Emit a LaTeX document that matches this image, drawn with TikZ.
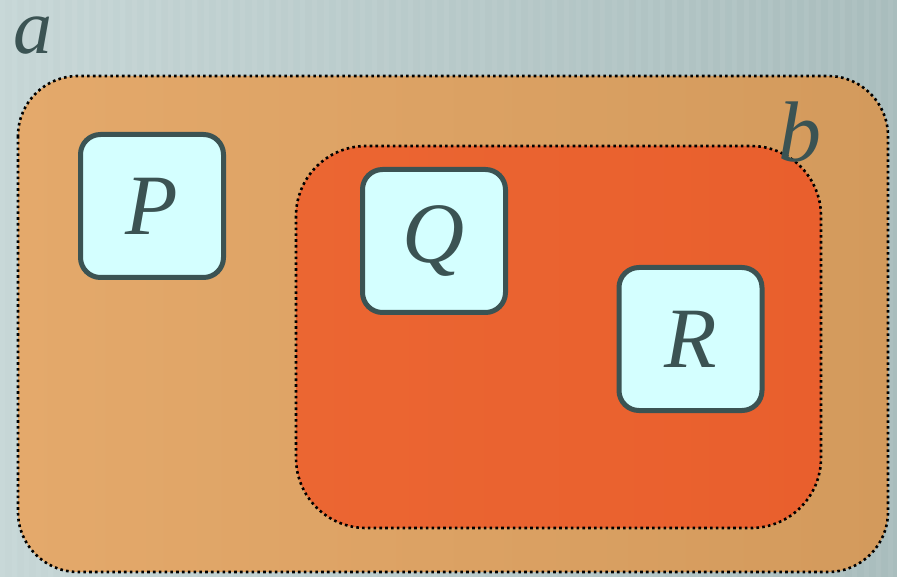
\documentclass[tikz,border=0pt]{standalone}
\usepackage{fontspec}
\newfontfamily\labelfont{Liberation Serif}
\definecolor{bgL}{HTML}{C6D6D6}
\definecolor{bgR}{HTML}{A9BDBD}
\definecolor{orL}{HTML}{E4A96B}
\definecolor{orR}{HTML}{D39A5C}
\definecolor{inL}{HTML}{EB6632}
\definecolor{inR}{HTML}{E95F2D}
\definecolor{boxfill}{HTML}{D4FFFF}
\definecolor{ink}{HTML}{3B5353}
\tikzset{
  setbox/.style={line width=2.6pt, draw=black, dash pattern=on 2.6pt off 3.2pt, rounded corners=#1},
  elembox/.style={draw=ink, line width=5pt, fill=boxfill, rounded corners=20pt,
    minimum width=143pt, minimum height=143pt, inner sep=0pt, text=ink,
    font=\labelfont\itshape\fontsize{86}{86}\selectfont},
  setlabel/.style={text=ink, inner sep=0pt, font=\labelfont\itshape\fontsize{#1}{#1}\selectfont}
}
\begin{document}
\begin{tikzpicture}[x=1pt,y=-1pt]
\useasboundingbox (0,0) rectangle (897,577);
\shade[left color=bgL, right color=bgR] (0,0) rectangle (897,577);
\foreach \i in {0,12,...,890} {
  \fill[white, opacity=0.05] (\i,0) rectangle ++(5,577);
}
\shade[left color=orL, right color=orR, rounded corners=60pt] (18,76) rectangle (888,572);
\draw[setbox=60pt] (18,76) rectangle (888,572);
\shade[left color=inL, right color=inR, rounded corners=70pt] (296,146) rectangle (821,528);
\draw[setbox=70pt] (296,146) rectangle (821,528);
\node[setlabel=78] (a) at (33,36) {a};
\node[setlabel=86] (b) at (800,132) {b};
\node[elembox] (P) at (152,206) {P};
\node[elembox] (Q) at (434,241) {Q};
\node[elembox] (R) at (690.5,339) {R};
\end{tikzpicture}
\end{document}
